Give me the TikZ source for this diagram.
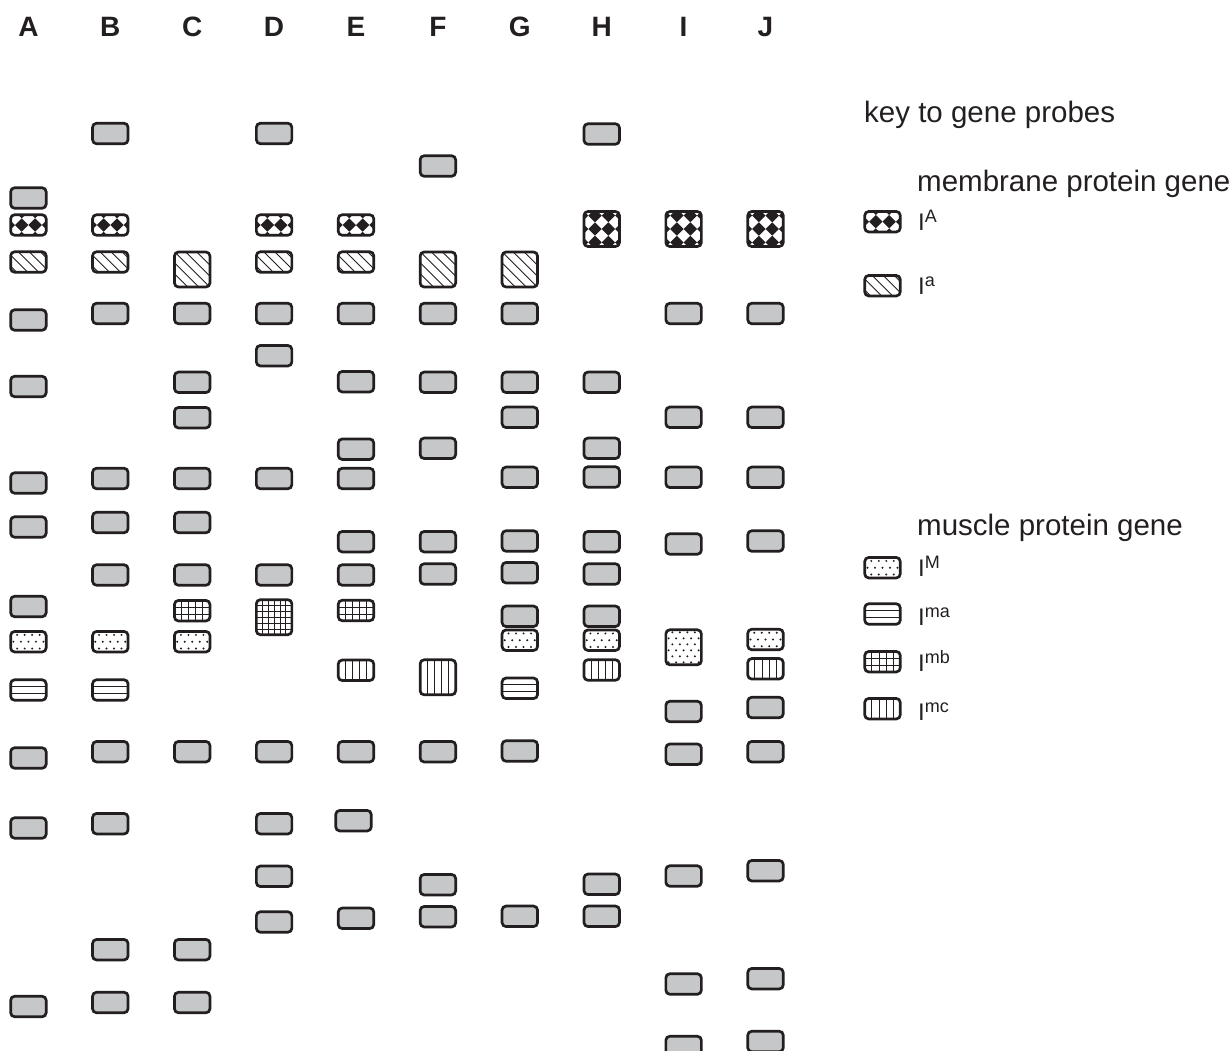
\documentclass[tikz,border=0pt]{standalone}
\usepackage{fontspec}
\setmainfont{Liberation Sans}
\definecolor{bandgray}{HTML}{C6C7C9}
\definecolor{ink}{HTML}{231F20}
\tikzset{
 bandline/.style={draw=ink, line width=2.7pt, rounded corners=4pt},
 patline/.style={draw=ink, line width=0.9pt},
 hdr/.style={anchor=base, inner sep=0pt, font=\fontsize{28}{28}\selectfont\bfseries, text=ink},
 keytxt/.style={anchor=base west, inner sep=0pt, font=\fontsize{29.5}{29.5}\selectfont, text=ink},
 lbl/.style={anchor=base west, inner sep=0pt, font=\fontsize{24}{24}\selectfont, text=ink},
}
\newcommand\supr[1]{\raisebox{8pt}{\fontsize{18}{18}\selectfont #1}}
\def\hS{20.5}
\def\hL{35}
\def\ca{6.7}
\def\cc{0.45}
\newcommand\fillg[3]{\fill[bandgray] ({#1-20},{#2-20}) rectangle ({#1+20},{#2+20});}
\newcommand\fillchk[3]{%
  \fill[white] ({#1-20},{#2-20}) rectangle ({#1+20},{#2+20});
  \foreach \i in {-3,-1,1,3}{\foreach \j in {-2,0,2}{%
      \pgfmathsetmacro\cx{#1+\i*\ca}\pgfmathsetmacro\cy{#2+\j*\ca}%
      \fill[ink] ({\cx+\ca},\cy) .. controls ({\cx+\cc*\ca},{\cy+\cc*\ca}) .. (\cx,{\cy+\ca})
        .. controls ({\cx-\cc*\ca},{\cy+\cc*\ca}) .. ({\cx-\ca},\cy)
        .. controls ({\cx-\cc*\ca},{\cy-\cc*\ca}) .. (\cx,{\cy-\ca})
        .. controls ({\cx+\cc*\ca},{\cy-\cc*\ca}) .. cycle;
    }}}
\newcommand\fillhat[3]{%
  \fill[white] ({#1-20},{#2-20}) rectangle ({#1+20},{#2+20});
  \foreach \k in {-5,...,5}{\draw[patline] ({#1+\k*11-25},{#2-25}) -- ++(50,50);}}
\newcommand\filldot[3]{%
  \fill[white] ({#1-20},{#2-20}) rectangle ({#1+20},{#2+20});
  \foreach \j in {-1,0,1}{\foreach \i in {-3,...,3}{%
    \pgfmathsetmacro\xo{\i*7.5+mod(\j+4,2)*3.75}%
    \fill[ink] ({#1+\xo},{#2+\j*6.8}) circle (1.1pt);}}}
\newcommand\filldotL[3]{%
  \fill[white] ({#1-20},{#2-20}) rectangle ({#1+20},{#2+20});
  \foreach \j in {-3,...,2}{\foreach \i in {-3,...,3}{%
    \pgfmathsetmacro\xo{\i*7.5+mod(\j+4,2)*3.75}%
    \fill[ink] ({#1+\xo},{#2+(\j+0.5)*6}) circle (1.1pt);}}}
\newcommand\fillhl[3]{%
  \fill[white] ({#1-20},{#2-20}) rectangle ({#1+20},{#2+20});
  \draw[patline] ({#1-20},{#2-#3/6}) -- ++(40,0);
  \draw[patline] ({#1-20},{#2+#3/6}) -- ++(40,0);}
\newcommand\fillgrid[3]{%
  \fill[white] ({#1-20},{#2-20}) rectangle ({#1+20},{#2+20});
  \foreach \k in {-10.65,-3.55,3.55,10.65}{\draw[patline] ({#1+\k},{#2-20}) -- ++(0,40);}
  \draw[patline] ({#1-20},{#2-3.5}) -- ++(40,0);
  \draw[patline] ({#1-20},{#2+3.5}) -- ++(40,0);}
\newcommand\fillgridL[3]{%
  \fill[white] ({#1-20},{#2-20}) rectangle ({#1+20},{#2+20});
  \foreach \k in {-11.8,-5.9,0,5.9,11.8}{\draw[patline] ({#1+\k},{#2-20}) -- ++(0,40);
    \draw[patline] ({#1-20},{#2+\k}) -- ++(40,0);}}
\newcommand\fillvl[3]{%
  \fill[white] ({#1-20},{#2-20}) rectangle ({#1+20},{#2+20});
  \foreach \k in {-10.65,-3.55,3.55,10.65}{\draw[patline] ({#1+\k},{#2-20}) -- ++(0,40);}}
\newcommand\bnd[4]{%
  \begin{scope}
    \clip[rounded corners=4pt] ({#1-17.75},{#2-#3/2}) rectangle ({#1+17.75},{#2+#3/2});
    \csname fill#4\endcsname{#1}{#2}{#3}
  \end{scope}
  \draw[bandline] ({#1-17.75},{#2-#3/2}) rectangle ({#1+17.75},{#2+#3/2});}
\def\xA{28.4}\def\xB{110.3}\def\xC{192.2}\def\xD{274.1}\def\xE{356}
\def\xF{437.9}\def\xG{519.8}\def\xH{601.7}\def\xI{683.6}\def\xJ{765.5}
\begin{document}
\begin{tikzpicture}[x=1pt,y=-1pt]
\useasboundingbox (0,0) rectangle (1232,1050);
\clip (0,0) rectangle (1232,1050);
% lane headers
\node[hdr] (hA) at (\xA,36.7) {A};
\node[hdr] (hB) at (\xB,36.7) {B};
\node[hdr] (hC) at (\xC,36.7) {C};
\node[hdr] (hD) at (\xD,36.7) {D};
\node[hdr] (hE) at (\xE,36.7) {E};
\node[hdr] (hF) at (\xF,36.7) {F};
\node[hdr] (hG) at (\xG,36.7) {G};
\node[hdr] (hH) at (\xH,36.7) {H};
\node[hdr] (hI) at (\xI,36.7) {I};
\node[hdr] (hJ) at (\xJ,36.7) {J};
% lane A
\foreach \y/\t/\h in {198/g/\hS, 225/chk/\hS, 262/hat/\hS, 320/g/\hS, 386.5/g/\hS, 483/g/\hS, 527/g/\hS, 606.5/g/\hS, 641.7/dot/\hS, 690/hl/\hS, 758/g/\hS, 828/g/\hS, 1006.5/g/\hS}{\bnd{\xA}{\y}{\h}{\t}}
% lane B
\foreach \y/\t/\h in {133.5/g/\hS, 225/chk/\hS, 262/hat/\hS, 313.5/g/\hS, 478.5/g/\hS, 522.5/g/\hS, 575/g/\hS, 641.7/dot/\hS, 690/hl/\hS, 751.7/g/\hS, 823.7/g/\hS, 949.7/g/\hS, 1002.5/g/\hS}{\bnd{\xB}{\y}{\h}{\t}}
% lane C
\foreach \y/\t/\h in {269.5/hat/\hL, 313.5/g/\hS, 382.3/g/\hS, 417.7/g/\hS, 478.5/g/\hS, 522.5/g/\hS, 575/g/\hS, 610.7/grid/\hS, 641.7/dot/\hS, 751.7/g/\hS, 949.7/g/\hS, 1002.5/g/\hS}{\bnd{\xC}{\y}{\h}{\t}}
% lane D
\foreach \y/\t/\h in {133.5/g/\hS, 225/chk/\hS, 262/hat/\hS, 313.5/g/\hS, 355.7/g/\hS, 478.5/g/\hS, 575/g/\hS, 617.2/gridL/\hL, 751.7/g/\hS, 823.7/g/\hS, 876.3/g/\hS, 922/g/\hS}{\bnd{\xD}{\y}{\h}{\t}}
% lane E
\foreach \y/\t/\h in {225/chk/\hS, 262/hat/\hS, 313.5/g/\hS, 381.7/g/\hS, 449.2/g/\hS, 478.5/g/\hS, 541.7/g/\hS, 575/g/\hS, 610.5/grid/\hS, 670.3/vl/\hS, 751.7/g/\hS, 918.3/g/\hS}{\bnd{\xE}{\y}{\h}{\t}}
\bnd{353.5}{820.7}{\hS}{g}
% lane F
\foreach \y/\t/\h in {166/g/\hS, 269.5/hat/\hL, 313.5/g/\hS, 382.3/g/\hS, 448.3/g/\hS, 541.7/g/\hS, 574/g/\hS, 677.3/vl/\hL, 751.7/g/\hS, 884.7/g/\hS, 916.7/g/\hS}{\bnd{\xF}{\y}{\h}{\t}}
% lane G
\foreach \y/\t/\h in {269.5/hat/\hL, 313.5/g/\hS, 382.3/g/\hS, 417.3/g/\hS, 477.3/g/\hS, 541/g/\hS, 572.7/g/\hS, 616.3/g/\hS, 640.2/dot/\hS, 688.3/hl/\hS, 751/g/\hS, 916.3/g/\hS}{\bnd{\xG}{\y}{\h}{\t}}
% lane H
\foreach \y/\t/\h in {134/g/\hS, 229/chk/\hL, 382.3/g/\hS, 448.3/g/\hS, 477/g/\hS, 541.7/g/\hS, 574/g/\hS, 616.3/g/\hS, 640.2/dot/\hS, 670/vl/\hS, 884.3/g/\hS, 916.3/g/\hS}{\bnd{\xH}{\y}{\h}{\t}}
% lane I
\foreach \y/\t/\h in {229/chk/\hL, 313.5/g/\hS, 417.3/g/\hS, 477.3/g/\hS, 544/g/\hS, 647.3/dotL/\hL, 711.5/g/\hS, 754.2/g/\hS, 876/g/\hS, 984/g/\hS, 1046.5/g/\hS}{\bnd{\xI}{\y}{\h}{\t}}
% lane J
\foreach \y/\t/\h in {229/chk/\hL, 313.5/g/\hS, 417.3/g/\hS, 477.3/g/\hS, 541/g/\hS, 639.5/dot/\hS, 668.8/vl/\hS, 707.5/g/\hS, 751.7/g/\hS, 870.7/g/\hS, 978.7/g/\hS, 1041.5/g/\hS}{\bnd{\xJ}{\y}{\h}{\t}}
% key
\node[keytxt] (key) at (864,122.7) {key to gene probes};
\node[keytxt] (memb) at (917,191) {membrane protein gene};
\bnd{882.5}{221.7}{\hS}{chk}
\node[lbl] (lA) at (918,230.7) {I\supr{A}};
\bnd{882.5}{285.7}{\hS}{hat}
\node[lbl] (la) at (918,294) {I\supr{a}};
\node[keytxt] (musc) at (917,535) {muscle protein gene};
\bnd{882.5}{567.7}{\hS}{dot}
\node[lbl] (lM) at (918,576) {I\supr{M}};
\bnd{882.5}{614}{\hS}{hl}
\node[lbl] (lma) at (918,625) {I\supr{ma}};
\bnd{882.5}{661.7}{\hS}{grid}
\node[lbl] (lmb) at (918,671.7) {I\supr{mb}};
\bnd{882.5}{708.7}{\hS}{vl}
\node[lbl] (lmc) at (918,720) {I\supr{mc}};
\end{tikzpicture}
\end{document}
